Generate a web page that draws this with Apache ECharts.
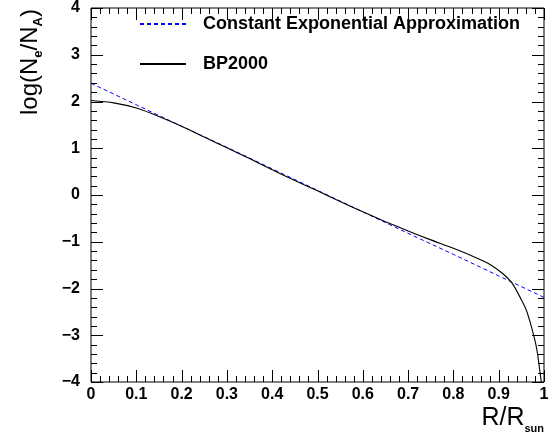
<!DOCTYPE html>
<html><head><meta charset="utf-8">
<script src="https://cdn.jsdelivr.net/npm/echarts@6/dist/echarts.min.js"></script>
<style>html,body{margin:0;padding:0;background:#fff}#c{width:557px;height:443px}</style>
</head><body><div id="c"></div>
<script>
// Data
const approxR   = [0, 0.1, 0.2, 0.3, 0.4, 0.5, 0.6, 0.7, 0.8, 0.9, 1.0];
const approxLog = [2.39, 1.93, 1.47, 1.02, 0.56, 0.10, -0.36, -0.82, -1.27, -1.73, -2.19];
const bpR   = [0, 0.05, 0.1, 0.15, 0.2, 0.25, 0.3, 0.35, 0.4, 0.45, 0.5, 0.55, 0.6, 0.65, 0.7, 0.75, 0.8, 0.85, 0.88, 0.91, 0.93, 0.95, 0.96, 0.97, 0.98, 0.985, 0.99, 0.994];
const bpLog = [2.02, 1.97, 1.86, 1.68, 1.47, 1.24, 1.01, 0.78, 0.54, 0.31, 0.09, -0.14, -0.36, -0.57, -0.77, -0.96, -1.14, -1.34, -1.48, -1.69, -1.89, -2.24, -2.44, -2.74, -3.11, -3.35, -3.70, -4.0];
const xTicks = [0, 0.1, 0.2, 0.3, 0.4, 0.5, 0.6, 0.7, 0.8, 0.9, 1];
const yTicks = [-4, -3, -2, -1, 0, 1, 2, 3, 4];
const legendNames = ['Constant Exponential Approximation', 'BP2000'];

const FONT = '"Liberation Sans", Arial, sans-serif';
const X0 = xTicks[0], X1 = xTicks[xTicks.length - 1];
const Y0 = yTicks[0], Y1 = yTicks[yTicks.length - 1];
const MINOR_DIV = 5;

// tick marks (major + minor) for all four sides, drawn through the axes' scales
const tickData = [];
function addTicks(kind, majors) {
  for (let i = 0; i < majors.length; i++) {
    tickData.push([kind, majors[i], 1]);
    if (i < majors.length - 1) {
      const step = (majors[i + 1] - majors[i]) / MINOR_DIV;
      for (let k = 1; k < MINOR_DIV; k++) tickData.push([kind, majors[i] + k * step, 0]);
    }
  }
}
addTicks(0, xTicks);
addTicks(1, yTicks);

const chart = echarts.init(document.getElementById('c'));
const fmtX = v => { const t = xTicks.find(t => Math.abs(t - v) < 1e-6); return t === undefined ? '' : String(t); };
const fmtY = v => { const t = yTicks.find(t => Math.abs(t - v) < 1e-6); return t === undefined ? '' : String(t).replace('-', '\u2212'); };
const crisp = p => Math.round(p) + 0.5;

function renderTick(params, api) {
  const kind = api.value(0), v = api.value(1), major = api.value(2);
  const len = major ? 12 : 6;
  const st = {stroke: '#000', lineWidth: 1};
  if (kind === 0) {
    const b = api.coord([v, Y0]), t = api.coord([v, Y1]);
    const x = crisp(b[0]);
    return {type: 'group', children: [
      {type: 'line', shape: {x1: x, y1: b[1], x2: x, y2: b[1] - len}, style: st},
      {type: 'line', shape: {x1: x, y1: t[1], x2: x, y2: t[1] + len}, style: st}]};
  }
  const l = api.coord([X0, v]), r = api.coord([X1, v]);
  const y = crisp(l[1]);
  return {type: 'group', children: [
    {type: 'line', shape: {x1: l[0], y1: y, x2: l[0] + len, y2: y}, style: st},
    {type: 'line', shape: {x1: r[0], y1: y, x2: r[0] - len, y2: y}, style: st}]};
}

chart.setOption({
  animation: false,
  grid: {left: 91, right: 13, top: 4, bottom: 61, show: true, borderColor: '#000', borderWidth: 1, backgroundColor: 'transparent'},
  legend: {
    orient: 'vertical', left: 134, top: 10, itemWidth: 46, itemHeight: 14, itemGap: 22,
    itemStyle: {opacity: 0},
    textStyle: {fontFamily: FONT, fontSize: 18, fontWeight: 'bold', color: '#000', padding: [0, 0, 0, 12]},
    data: legendNames
  },
  xAxis: {type: 'value', min: X0, max: X1, interval: 0.1,
    axisLine: {show: false}, axisTick: {show: false}, splitLine: {show: false},
    axisLabel: {formatter: fmtX, fontFamily: FONT, fontSize: 16, fontWeight: 'bold', color: '#000', margin: 5}},
  yAxis: {type: 'value', min: Y0, max: Y1, interval: 1,
    axisLine: {show: false}, axisTick: {show: false}, splitLine: {show: false},
    axisLabel: {formatter: fmtY, fontFamily: FONT, fontSize: 16, fontWeight: 'bold', color: '#000', margin: 11}},
  series: [
    {name: legendNames[0], type: 'line', showSymbol: false, symbol: 'none',
     data: approxR.map((r, i) => [r, approxLog[i]]),
     lineStyle: {color: '#0000ff', width: 1, type: [4, 3]}, itemStyle: {color: '#0000ff'}},
    {name: legendNames[1], type: 'line', showSymbol: false, symbol: 'none', smooth: 0.25,
     data: bpR.map((r, i) => [r, bpLog[i]]),
     lineStyle: {color: '#000', width: 1.1}, itemStyle: {color: '#000'}},
    {type: 'custom', silent: true, clip: false, renderItem: renderTick, data: tickData, z: 5}
  ],
  graphic: [
    {type: 'text', x: 28, y: 62, rotation: Math.PI / 2, style: {
      text: '{a|log(N}{b|e}{a|/N}{b|A}{a|)}', fontFamily: FONT, align: 'center', verticalAlign: 'middle',
      rich: {a: {fontFamily: FONT, fontSize: 24, color: '#000', lineHeight: 28, verticalAlign: 'bottom'},
             b: {fontFamily: FONT, fontSize: 13, color: '#000', fontWeight: 'bold', lineHeight: 28, verticalAlign: 'bottom', padding: [0, 0, -3, 0]}}}},
    {type: 'text', x: 544, y: 417, style: {
      text: '{a|R/R}{b|sun}', fontFamily: FONT, align: 'right', verticalAlign: 'middle',
      rich: {a: {fontFamily: FONT, fontSize: 25, color: '#000', lineHeight: 28, verticalAlign: 'bottom'},
             b: {fontFamily: FONT, fontSize: 11, color: '#000', fontWeight: 'bold', lineHeight: 28, verticalAlign: 'bottom', padding: [0, 0, -3, 0]}}}}
  ]
});
</script></body></html>
